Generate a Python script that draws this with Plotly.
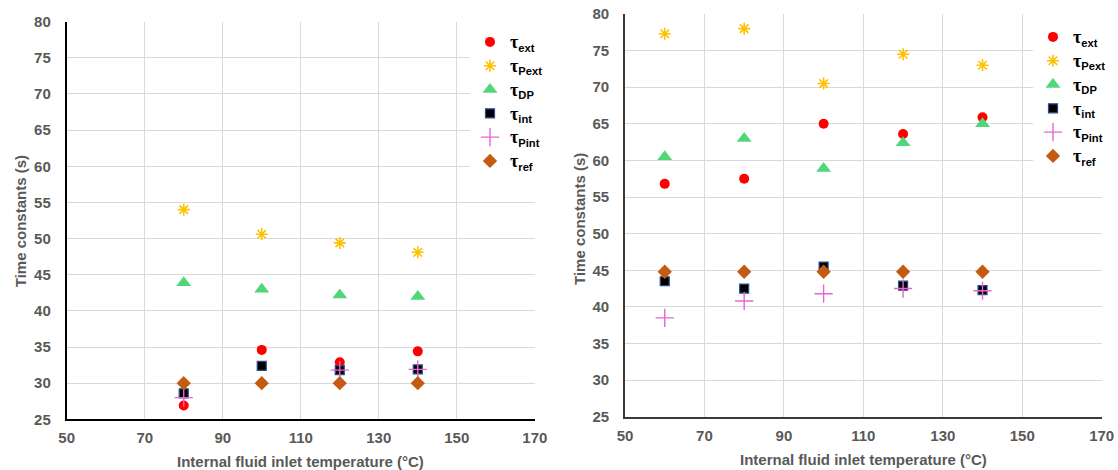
import plotly.graph_objects as go

# ---------------- data ----------------
x_left = [80, 100, 120, 140]
tau_ext_L = [26.9, 34.6, 32.9, 34.4]
tau_pext_L = [54.0, 50.6, 49.4, 48.1]
tau_dp_L = [43.9, 43.0, 42.2, 42.0]
tau_int_L = [28.6, 32.4, 31.8, 31.9]
tau_pint_L = [28.0, None, 31.8, 31.9]
tau_ref_L = [30.0, 30.0, 30.0, 30.0]

x_right = [60, 80, 100, 120, 140]
tau_ext_R = [56.8, 57.5, 65.0, 63.6, 65.9]
tau_pext_R = [77.3, 78.0, 70.5, 74.5, 73.0]
tau_dp_R = [60.5, 63.0, 58.9, 62.4, 65.0]
tau_int_R = [43.5, 42.5, 45.5, 42.9, 42.3]
tau_pint_R = [38.5, 40.8, 41.8, 42.5, 42.2]
tau_ref_R = [44.8, 44.8, 44.8, 44.8, 44.8]

series_names = ["ext", "Pext", "DP", "int", "Pint", "ref"]
x_ticks = [50, 70, 90, 110, 130, 150, 170]
y_ticks = [25, 30, 35, 40, 45, 50, 55, 60, 65, 70, 75, 80]
x_title = "Internal fluid inlet temperature (°C)"
y_title = "Time constants (s)"

# ---------------- styles ----------------
styles = {
    "ext": dict(symbol="circle", color="#FF0000", size=10, line=dict(width=0)),
    "Pext": dict(symbol="asterisk-open", color="#FFC000", size=10, line=dict(width=1.6, color="#FFC000")),
    "DP": dict(symbol="triangle-up", color="#52D67A", size=13, line=dict(width=0)),
    "int": dict(symbol="square", color="#000000", size=9, line=dict(width=1.2, color="#2F4B8C")),
    "Pint": dict(symbol="cross-thin-open", color="#E865D2", size=13, line=dict(width=1.4, color="#E865D2")),
    "ref": dict(symbol="diamond", color="#C55A11", size=11, line=dict(width=0)),
}

def label(s):
    return ('<span style="font-family:Liberation Serif;font-size:18px">τ</span>'
            '<sub>' + s + '</sub>')

left_vals = [tau_ext_L, tau_pext_L, tau_dp_L, tau_int_L, tau_pint_L, tau_ref_L]
right_vals = [tau_ext_R, tau_pext_R, tau_dp_R, tau_int_R, tau_pint_R, tau_ref_R]

fig = go.Figure()
for name, vals in zip(series_names, left_vals):
    fig.add_trace(go.Scatter(x=x_left, y=vals, mode="markers", name=label(name),
                             marker=styles[name], xaxis="x", yaxis="y",
                             legend="legend", legendgroup="L" + name,
                             cliponaxis=False))
for name, vals in zip(series_names, right_vals):
    fig.add_trace(go.Scatter(x=x_right, y=vals, mode="markers", name=label(name),
                             marker=styles[name], xaxis="x2", yaxis="y2",
                             legend="legend2", legendgroup="R" + name,
                             cliponaxis=False))

W, H = 1118, 470
tick_font = dict(family="Liberation Sans", size=15, color="#595959", weight="bold")
grid = "#D9D9D9"

def xaxis(domain, anchor, linecolor):
    return dict(domain=domain, anchor=anchor, range=[50, 170], tickvals=x_ticks,
                showgrid=True, gridcolor=grid, gridwidth=1.3, zeroline=False,
                showline=True, linecolor=linecolor, linewidth=1.8,
                tickfont=tick_font, ticks="", ticklabelstandoff=4,
                automargin=False, fixedrange=True)

def yaxis(domain, anchor, linecolor):
    return dict(domain=domain, anchor=anchor, range=[25, 80], tickvals=y_ticks,
                showgrid=True, gridcolor=grid, gridwidth=1.3, zeroline=False,
                showline=True, linecolor=linecolor, linewidth=1.8,
                tickfont=tick_font, ticks="", ticklabelstandoff=11,
                automargin=False, fixedrange=True)

legend_font = dict(family="Liberation Sans", size=16, color="#000000", weight="bold")

# plot areas (pixels): left 66.7..534.8 x 21.7..419.3 ; right 625..1101.7 x 14..416.7
fig.update_layout(
    width=W, height=H,
    margin=dict(l=0, r=0, t=0, b=0),
    paper_bgcolor="white", plot_bgcolor="white",
    xaxis=xaxis([66.7 / W, 534.8 / W], "y", "#000000"),
    yaxis=yaxis([(H - 419.3) / H, (H - 21.7) / H], "x", "#000000"),
    xaxis2=xaxis([625 / W, 1101.7 / W], "y2", "#3A3A3A"),
    yaxis2=yaxis([(H - 416.7) / H, (H - 14) / H], "x2", "#3A3A3A"),
    showlegend=True,
    legend=dict(x=470 / W, y=(H - 25) / H, xanchor="left", yanchor="top",
                bgcolor="rgba(255,255,255,1)", borderwidth=0, font=legend_font,
                tracegroupgap=0, itemclick=False, itemdoubleclick=False),
    legend2=dict(x=1033 / W, y=(H - 20) / H, xanchor="left", yanchor="top",
                 bgcolor="rgba(255,255,255,1)", borderwidth=0, font=legend_font,
                 tracegroupgap=0, itemclick=False, itemdoubleclick=False),
)

title_font = dict(family="Liberation Sans", size=15, color="#595959", weight="bold")
annos = [
    dict(text=x_title, x=300.7 / W, y=(H - 461.5) / H),
    dict(text=x_title, x=863.3 / W, y=(H - 459.3) / H),
    dict(text=y_title, x=20.7 / W, y=(H - 221.5) / H, textangle=-90),
    dict(text=y_title, x=580 / W, y=(H - 219) / H, textangle=-90),
]
for a in annos:
    fig.add_annotation(xref="paper", yref="paper", showarrow=False,
                       xanchor="center", yanchor="middle", font=title_font, **a)

fig.write_html("out.html", config={"displayModeBar": False},
               post_script="document.body.style.margin='0';document.body.style.overflow='hidden';")
